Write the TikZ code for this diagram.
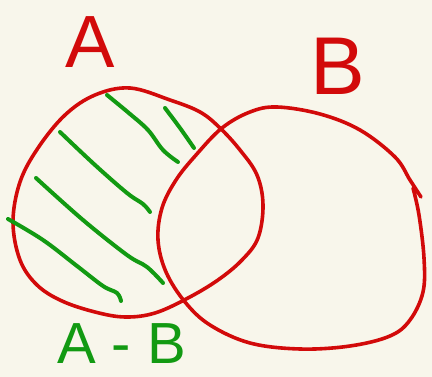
\documentclass[tikz,border=0pt]{standalone}
\usepackage{fontspec}
\setmainfont{Liberation Sans}
\usetikzlibrary{positioning}
\definecolor{fondo}{HTML}{F8F6EB}
\definecolor{rojo}{HTML}{D20A0A}
\definecolor{verde}{HTML}{129A12}
\tikzset{
  every picture/.style={x=1pt, y=-1pt, line cap=round, line join=round},
  conjunto/.style={draw=rojo, line width=3.6pt},
  rayado/.style={draw=verde, line width=4pt},
  letra/.style={text=rojo, inner sep=0pt, font=\fontsize{74}{74}\selectfont},
  resta/.style={text=verde, inner sep=0pt, font=\fontsize{58}{58}\selectfont},
}
\begin{document}
\begin{tikzpicture}
  % fondo
  \fill[fondo] (0,0) rectangle (432,377);
  \useasboundingbox (0,0) rectangle (432,377);
  % conjunto A
  \draw[conjunto] plot[smooth cycle, tension=0.6] coordinates {
    (220,128) (200,112) (170,100) (130,88) (95,95) (65,115) (38,148)
    (20,182) (13,222) (20,260) (37,285) (62,301) (95,312) (125,317)
    (155,313) (188,298) (218,280) (242,260) (258,238) (263,205)
    (257,175) (240,150)};
  % conjunto B
  \draw[conjunto] plot[smooth, tension=0.6] coordinates {
    (413,188) (419,215) (424,258) (423,292) (410,320) (390,336)
    (350,346) (300,349) (250,343) (210,325) (185,302) (166,272)
    (158,240) (162,208) (176,180) (196,155) (222,128) (250,112)
    (277,107) (320,114) (360,130) (395,157) (410,180) (421,197)};
  % rayado de A - B
  \draw[rayado] plot[smooth, tension=0.6] coordinates {(107,95) (130,114) (148,130) (163,150) (178,162)};
  \draw[rayado] plot[smooth, tension=0.6] coordinates {(165,108) (180,128) (194,148)};
  \draw[rayado] plot[smooth, tension=0.6] coordinates {(60,132) (95,165) (127,193) (143,204) (150,212)};
  \draw[rayado] plot[smooth, tension=0.6] coordinates {(36,178) (83,220) (127,255) (147,267) (163,283)};
  \draw[rayado] plot[smooth, tension=0.6] coordinates {(8,219) (43,240) (77,266) (103,286) (117,293) (121,301)};
  % rotulos
  \node[letra] (a) at (90,42) {A};
  \node[letra, font=\fontsize{82}{82}\selectfont] (b) at (338,66) {B};
  \node[resta, anchor=base west] (ab) at (57,364) {A - B};
\end{tikzpicture}
\end{document}
